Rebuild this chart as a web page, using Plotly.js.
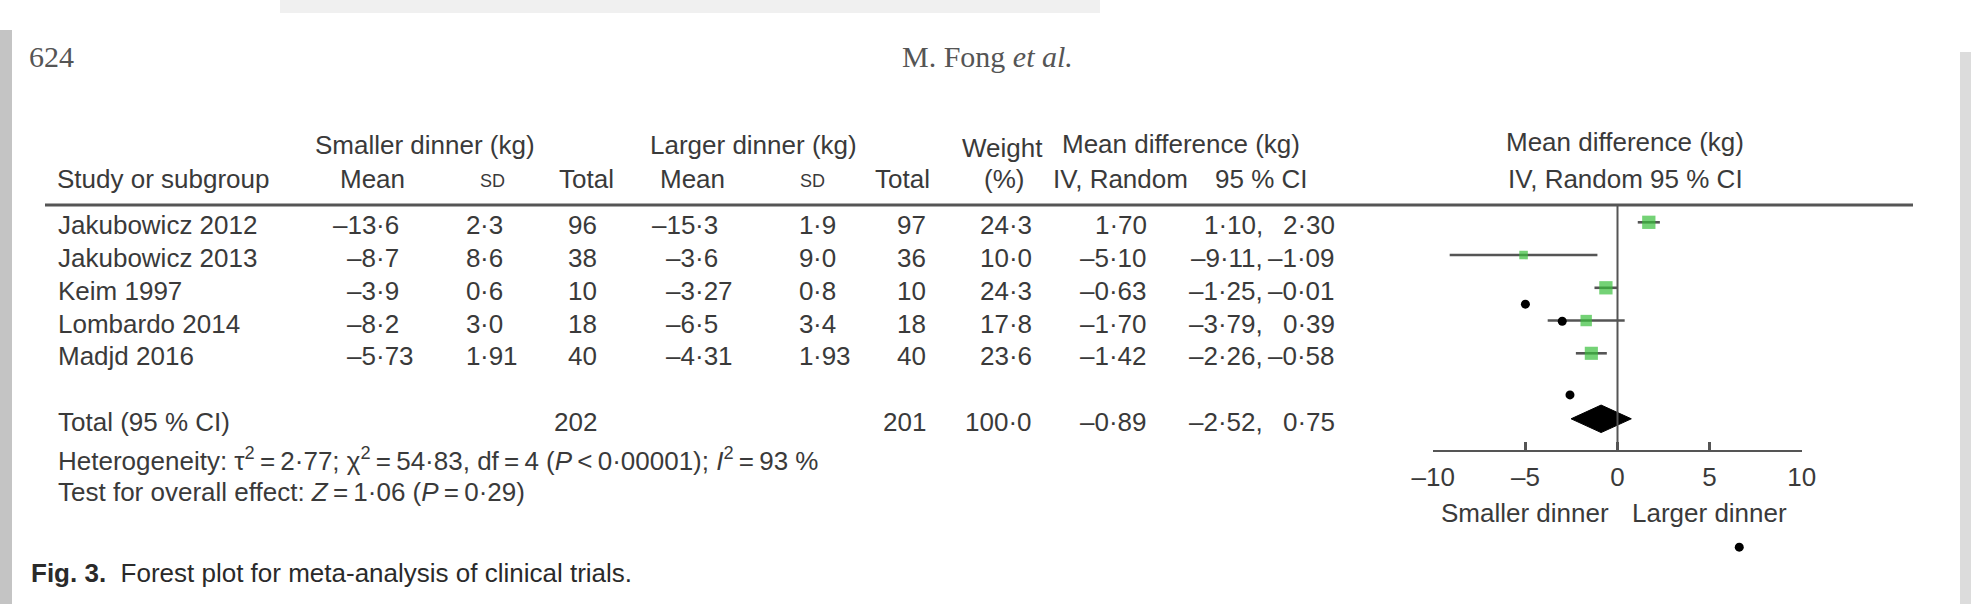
<!DOCTYPE html>
<html>
<head>
<meta charset="utf-8">
<script src="https://cdn.plot.ly/plotly-3.0.1.min.js"></script>
<style>html,body{margin:0;padding:0;background:#fff;}#chart{width:1971px;height:604px;}</style>
</head>
<body>
<div id="chart"></div>
<script>
// ---------- data ----------
const studies = ["Jakubowicz 2012", "Jakubowicz 2013", "Keim 1997", "Lombardo 2014", "Madjd 2016"];
const smallMean = [-13.6, -8.7, -3.9, -8.2, -5.73];
const smallMeanDp = [1, 1, 1, 1, 2];
const smallSD = [2.3, 8.6, 0.6, 3.0, 1.91];
const smallSDDp = [1, 1, 1, 1, 2];
const smallN = [96, 38, 10, 18, 40];
const largeMean = [-15.3, -3.6, -3.27, -6.5, -4.31];
const largeMeanDp = [1, 1, 2, 1, 2];
const largeSD = [1.9, 9.0, 0.8, 3.4, 1.93];
const largeSDDp = [1, 1, 1, 1, 2];
const largeN = [97, 36, 10, 18, 40];
const weight = [24.3, 10.0, 24.3, 17.8, 23.6];
const meanDiff = [1.70, -5.10, -0.63, -1.70, -1.42];
const ciLow = [1.10, -9.11, -1.25, -3.79, -2.26];
const ciHigh = [2.30, -1.09, -0.01, 0.39, -0.58];
const totalSmallN = 202;
const totalLargeN = 201;
const totalWeight = 100.0;
const pooledMD = -0.89;
const pooledLow = -2.52;
const pooledHigh = 0.75;
const xTickVals = [-10, -5, 0, 5, 10];
const xTickText = ["–10", "–5", "0", "5", "10"];
const strayDotX = [-5.0, -3.0, -2.58, 6.61];
const strayDotY = [2.5, 3.02, 5.27, 9.92];

// ---------- helpers ----------
const W = 1971, H = 604;
const PX = x => x / W;
const PY = y => 1 - y / H;
const fmt = (v, d) => (v < 0 ? "–" : "") + Math.abs(v).toFixed(d).replace(".", "·");
const TXT = "#3a3a3a";
const FONT = "Liberation Sans, Arial, Helvetica, sans-serif";
const SERIF = "Liberation Serif, Times New Roman, serif";
const FS = 26;
const rows = studies.map((_, i) => i);
const pooledRow = studies.length + 1;

const ann = [];
function t(text, x, y, anchor, opts) {
  opts = opts || {};
  ann.push({
    text: text, x: PX(x), xref: "paper", y: PY(y), yref: "paper",
    xanchor: anchor, yanchor: "middle", showarrow: false,
    borderpad: 0, borderwidth: 0,
    font: {family: opts.family || FONT, size: opts.size || FS, color: opts.color || TXT}
  });
}
function rowText(text, x, row, anchor) {
  ann.push({
    text: text, x: PX(x), xref: "paper", y: row, yref: "y", yshift: -3,
    xanchor: anchor, yanchor: "middle", showarrow: false,
    borderpad: 0, borderwidth: 0,
    font: {family: FONT, size: FS, color: TXT}
  });
}
function decText(str, decX, row) {
  const k = str.indexOf("·");
  rowText(str.slice(0, k), decX, row, "right");
  rowText(str.slice(k), decX, row, "left");
}

// page header
t("624", 29, 56, "left", {size: 30, color: "#555", family: SERIF});
t("M. Fong <i>et al.</i>", 1073, 56, "right", {size: 30, color: "#555", family: SERIF});

// column group headers
t("Smaller dinner (kg)", 425, 145, "center");
t("Larger dinner (kg)", 753, 145, "center");
t("Weight", 1002, 148, "center");
t("Mean difference (kg)", 1181, 144, "center");
t("Mean difference (kg)", 1625, 142, "center");
// column headers
t("Study or subgroup", 57, 179, "left");
t("Mean", 372, 179, "center");
t("SD", 492, 181, "center", {size: 18});
t("Total", 586, 179, "center");
t("Mean", 692, 179, "center");
t("SD", 812, 181, "center", {size: 18});
t("Total", 902, 179, "center");
t("(%)", 1004, 179, "center");
t("IV, Random", 1120, 179, "center");
t("95 % CI", 1261, 179, "center");
t("IV, Random 95 % CI", 1625, 179, "center");

// study rows
rows.forEach(i => {
  rowText(studies[i], 58, i, "left");
  decText(fmt(smallMean[i], smallMeanDp[i]), 376, i);
  decText(fmt(smallSD[i], smallSDDp[i]), 480, i);
  rowText(String(smallN[i]), 597, i, "right");
  decText(fmt(largeMean[i], largeMeanDp[i]), 695, i);
  decText(fmt(largeSD[i], largeSDDp[i]), 813, i);
  rowText(String(largeN[i]), 926, i, "right");
  rowText(fmt(weight[i], 1), 1032, i, "right");
  rowText(fmt(meanDiff[i], 2), 1147, i, "right");
  rowText(fmt(ciLow[i], 2) + ",", 1263, i, "right");
  rowText(fmt(ciHigh[i], 2), 1335, i, "right");
});
// pooled row
rowText("Total (95 % CI)", 58, pooledRow, "left");
rowText(String(totalSmallN), 597, pooledRow, "right");
rowText(String(totalLargeN), 926, pooledRow, "right");
rowText(fmt(totalWeight, 1), 1032, pooledRow, "right");
rowText(fmt(pooledMD, 2), 1147, pooledRow, "right");
rowText(fmt(pooledLow, 2) + ",", 1263, pooledRow, "right");
rowText(fmt(pooledHigh, 2), 1335, pooledRow, "right");

// footnotes
t("Heterogeneity: τ<sup>2</sup>\u2009=\u20092·77; χ<sup>2</sup>\u2009=\u200954·83, df\u2009=\u20094 (<i>P</i>\u2009&lt;\u20090·00001); <i>I</i><sup>2</sup>\u2009=\u200993 %", 58, 459, "left");
t("Test for overall effect: <i>Z</i>\u2009=\u20091·06 (<i>P</i>\u2009=\u20090·29)", 58, 492, "left");
t("<b>Fig. 3.</b>  Forest plot for meta-analysis of clinical trials.", 31, 573, "left", {color: "#2a2a2a"});

// axis side labels
["Smaller dinner", "Larger dinner"].forEach((s, k) => {
  ann.push({text: s, x: k === 0 ? -5 : 5, xref: "x", y: PY(513), yref: "paper",
    xanchor: "center", yanchor: "middle", showarrow: false, borderpad: 0, borderwidth: 0,
    font: {family: FONT, size: FS, color: TXT}});
});

// ---------- traces ----------
const ciX = [], ciY = [];
rows.forEach(i => { ciX.push(ciLow[i], ciHigh[i], null); ciY.push(i, i, null); });
const traces = [
  {type: "scatter", mode: "lines", x: ciX, y: ciY, line: {color: "#555", width: 2.6}, hoverinfo: "skip"},
  {type: "scatter", mode: "markers", x: meanDiff, y: rows,
   marker: {symbol: "square", color: "#39bf3c", size: weight.map(w => 2.7 * Math.sqrt(w)), line: {width: 0}}},
  {type: "scatter", mode: "lines", fill: "toself", fillcolor: "#000",
   x: [pooledLow, pooledMD, pooledHigh, pooledMD, pooledLow],
   y: [pooledRow, pooledRow - 0.42, pooledRow, pooledRow + 0.42, pooledRow],
   line: {color: "#000", width: 1}},
  {type: "scatter", mode: "markers", x: strayDotX, y: strayDotY,
   marker: {symbol: "circle", color: "#000", size: 9}}
];

const shapes = [
  {type: "line", xref: "paper", yref: "paper", x0: PX(45), x1: PX(1913), y0: PY(205), y1: PY(205), line: {color: "#555", width: 3}},
  {type: "line", xref: "x", yref: "paper", x0: 0, x1: 0, y0: PY(205), y1: PY(451), line: {color: "#555", width: 2}},
  {type: "rect", xref: "paper", yref: "paper", x0: 0, x1: PX(12), y0: 0, y1: PY(30), fillcolor: "#c4c4c4", line: {width: 0}, layer: "below"},
  {type: "rect", xref: "paper", yref: "paper", x0: PX(1960), x1: 1, y0: 0, y1: PY(52), fillcolor: "#dcdcdc", line: {width: 0}, layer: "below"},
  {type: "rect", xref: "paper", yref: "paper", x0: PX(280), x1: PX(1100), y0: PY(13), y1: 1, fillcolor: "#f0f0f0", line: {width: 0}, layer: "below"}
];

const layout = {
  width: W, height: H,
  margin: {l: 0, r: 0, t: 0, b: 0, pad: 0},
  paper_bgcolor: "#fff", plot_bgcolor: "rgba(0,0,0,0)",
  showlegend: false,
  font: {family: FONT, color: TXT},
  xaxis: {
    domain: [PX(1433.3), PX(1801.7)], range: [-10, 10],
    anchor: "free", position: PY(450.7),
    showline: true, linecolor: "#555", linewidth: 2.6,
    ticks: "inside", ticklen: 8, tickwidth: 2.6, tickcolor: "#555",
    tickvals: xTickVals, ticktext: xTickText,
    tickfont: {family: FONT, size: FS, color: TXT},
    ticklabelstandoff: 2,
    showgrid: false, zeroline: false, fixedrange: true
  },
  yaxis: {
    domain: [0, 1], range: [11.655, -6.788], visible: false,
    showgrid: false, zeroline: false, fixedrange: true
  },
  annotations: ann,
  shapes: shapes
};

Plotly.newPlot("chart", traces, layout, {staticPlot: true, displayModeBar: false});
</script>
</body>
</html>
